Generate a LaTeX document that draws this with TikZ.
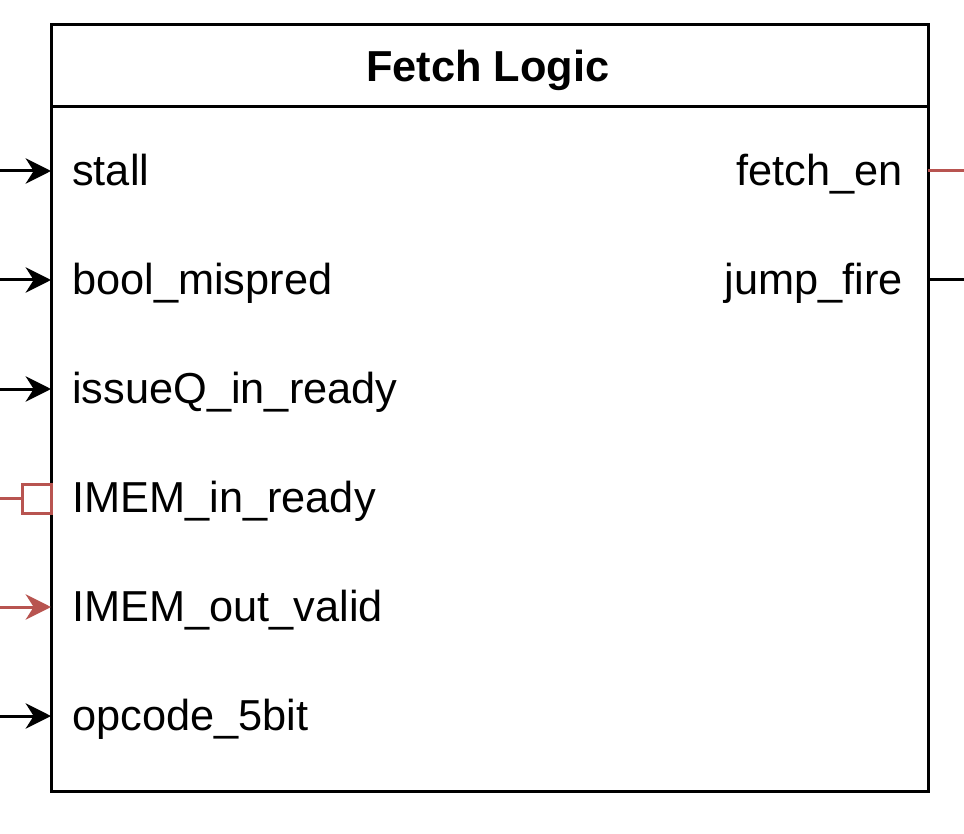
\documentclass[tikz,border=0pt]{standalone}
\usepackage{fontspec}
\setmainfont{Liberation Sans}
\usetikzlibrary{arrows.meta}
\definecolor{redp}{HTML}{B85450}
\begin{document}
\begin{tikzpicture}[x=0.75pt,y=-0.75pt,
  lab/.style={font=\fontsize{32.5}{38}\selectfont,inner sep=0},
  sig/.style={line width=2.25pt,-{Stealth[length=19pt,width=19pt,inset=6pt]}},
  box/.style={draw,line width=2.25pt}]
\useasboundingbox (0,0) rectangle (964,834);
\draw[box] (51,25) rectangle (928,791);
\draw[line width=2.25pt] (51,107) -- (928,107);
\node[lab,anchor=mid,font=\fontsize{32.5}{38}\selectfont\bfseries] (title) at (488,78) {Fetch Logic};
\foreach \n/\t/\y in {a/stall/171,b/bool\_mispred/280,c/issueQ\_in\_ready/389,d/IMEM\_in\_ready/498,e/IMEM\_out\_valid/607,f/opcode\_5bit/716}{
  \node[lab,anchor=mid west] (l\n) at (72,\y+11) {\t};
  \coordinate (p\n) at (51,\y);
  \coordinate (s\n) at (0,\y);
}
\draw[sig] (sa) -- (pa);
\draw[sig] (sb) -- (pb);
\draw[sig] (sc) -- (pc);
\draw[sig,redp] (se) -- (pe);
\draw[sig] (sf) -- (pf);
\draw[line width=2.25pt,redp] (sd) -- (22,498);
\draw[line width=2.25pt,redp] (22,484) rectangle (51,513);
\node[lab,anchor=mid east] (fe) at (903,182) {fetch\_en};
\node[lab,anchor=mid east] (jf) at (903,291) {jump\_fire};
\coordinate (fe1) at (928,171); \coordinate (fe2) at (964,171);
\coordinate (jf1) at (928,280); \coordinate (jf2) at (964,280);
\draw[line width=2.25pt,redp] (fe1) -- (fe2);
\draw[line width=2.25pt] (jf1) -- (jf2);
\end{tikzpicture}
\end{document}
